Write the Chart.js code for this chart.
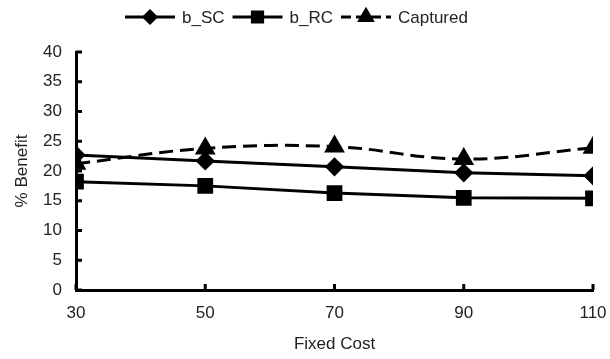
<!DOCTYPE html>
<html>
<head>
<meta charset="utf-8">
<script src="https://cdn.jsdelivr.net/npm/chart.js@4/dist/chart.umd.min.js"></script>
<style>
  html, body { margin: 0; padding: 0; background: #fff; }
  #wrap { width: 610px; height: 359px; }
</style>
</head>
<body>
<div id="wrap"><canvas id="myChart" width="610" height="359"></canvas></div>
<script>
// data
var fixedCost = [30, 50, 70, 90, 110];
var bSC = [22.7, 21.7, 20.7, 19.7, 19.2];
var bRC = [18.2, 17.5, 16.3, 15.5, 15.4];
var captured = [21.2, 23.8, 24.1, 22.0, 23.9];
var yTicks = [0, 5, 10, 15, 20, 25, 30, 35, 40];

var FONT = "'Liberation Sans', Arial, sans-serif";
var FS = 17;

function pts(vals) {
  return vals.map((v, i) => ({ x: fixedCost[i], y: v }));
}

// small tick marks that point into the plot, like the original
var innerTicks = {
  id: 'innerTicks',
  afterDatasetsDraw(chart) {
    var c = chart.ctx, xs = chart.scales.x, ys = chart.scales.y;
    c.save();
    c.strokeStyle = '#000';
    c.lineWidth = 3;
    yTicks.forEach(t => {
      var p = ys.getPixelForValue(t);
      c.beginPath(); c.moveTo(xs.left, p); c.lineTo(xs.left + 6, p); c.stroke();
    });
    fixedCost.forEach(t => {
      var p = xs.getPixelForValue(t);
      c.beginPath(); c.moveTo(p, ys.bottom); c.lineTo(p, ys.bottom - 6); c.stroke();
    });
    c.restore();
  }
};

// legend with line + marker + line, drawn on the canvas
var lineLegend = {
  id: 'lineLegend',
  afterDraw(chart) {
    var c = chart.ctx;
    var y = 17;
    var x = 125;
    c.save();
    c.font = FS + 'px ' + FONT;
    c.textBaseline = 'middle';
    chart.data.datasets.forEach(ds => {
      var segW = 50;
      c.strokeStyle = '#000';
      c.lineWidth = 3;
      c.setLineDash(ds.borderDash ? [10, 5] : []);
      c.beginPath(); c.moveTo(x, y); c.lineTo(x + segW, y); c.stroke();
      c.setLineDash([]);
      c.fillStyle = '#000';
      Chart.helpers.drawPoint(c, {
        pointStyle: ds.pointStyle, radius: ds.pointRadius * 0.8,
        borderWidth: 1
      }, x + segW / 2, y);
      c.fillStyle = '#222';
      c.fillText(ds.label, x + segW + 7, y + 1);
      x += segW + 7 + c.measureText(ds.label).width + 8;
    });
    c.restore();
  }
};

var ctx = document.getElementById('myChart').getContext('2d');
Chart.defaults.font.family = FONT;
Chart.defaults.font.size = FS;
Chart.defaults.color = '#222';

var myChart = new Chart(ctx, {
  type: 'line',
  data: {
    datasets: [
      {
        label: 'b_SC', data: pts(bSC),
        borderColor: '#000', backgroundColor: '#000', borderWidth: 3,
        pointStyle: 'rectRot', pointRadius: 7.5, tension: 0
      },
      {
        label: 'b_RC', data: pts(bRC),
        borderColor: '#000', backgroundColor: '#000', borderWidth: 3,
        pointStyle: 'rect', pointRadius: 9, tension: 0
      },
      {
        label: 'Captured', data: pts(captured),
        borderColor: '#000', backgroundColor: '#000', borderWidth: 3,
        borderDash: [14, 7],
        pointStyle: 'triangle', pointRadius: 9, tension: 0.4
      }
    ]
  },
  options: {
    responsive: false,
    animation: false,
    layout: { padding: { top: 52, right: 0, left: 0, bottom: 0 } },
    plugins: {
      legend: { display: false },
      tooltip: { enabled: false }
    },
    scales: {
      x: {
        type: 'linear', min: 30, max: 110,
        afterBuildTicks: s => { s.ticks = fixedCost.map(v => ({ value: v })); },
        grid: { display: false, drawTicks: false },
        border: { display: true, color: '#000', width: 3 },
        ticks: { font: { size: FS }, padding: 13, maxRotation: 0 },
        title: { display: true, text: 'Fixed Cost', font: { size: FS }, padding: { top: 10 } },
        afterFit: s => { s.height = 69; s.paddingRight = 17; s.paddingLeft = 0; }
      },
      y: {
        min: 0, max: 40,
        afterBuildTicks: s => { s.ticks = yTicks.map(v => ({ value: v })); },
        grid: { display: false, drawTicks: false },
        border: { display: true, color: '#000', width: 3 },
        ticks: { font: { size: FS }, padding: 14 },
        title: { display: true, text: '% Benefit', font: { size: FS }, padding: { top: 12, bottom: 4 } },
        afterFit: s => { s.width = 76; }
      }
    }
  },
  plugins: [innerTicks, lineLegend]
});
</script>
</body>
</html>
